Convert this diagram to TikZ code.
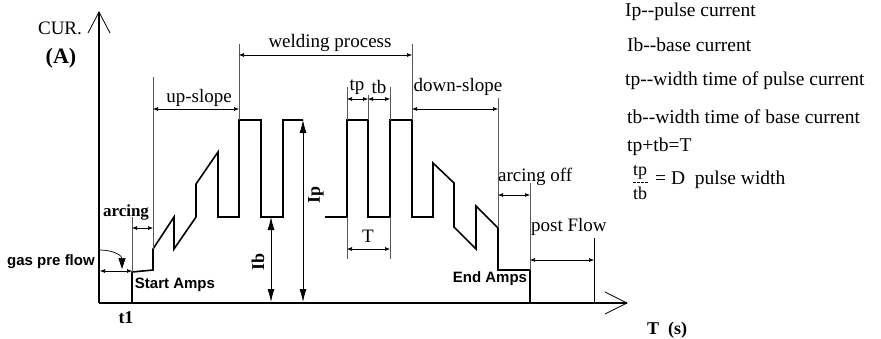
\documentclass[tikz,border=0pt]{standalone}
\usepackage{fontspec}
\setmainfont{Liberation Serif}
\setsansfont{Liberation Sans}
\usetikzlibrary{arrows.meta}
\tikzset{
  wave/.style={line width=1.6pt,line join=miter},
  axisline/.style={line width=2pt},
  extline/.style={line width=0.6pt,black!65},
  dimline/.style={line width=0.6pt,{Latex[length=5pt,width=4pt]}-{Latex[length=5pt,width=4pt]}},
  bigdim/.style={line width=0.8pt,{Latex[length=13pt,width=7pt]}-{Latex[length=13pt,width=7pt]}},
  lbl/.style={font=\fontsize{19}{21}\selectfont,inner sep=0pt},
  blbl/.style={font=\fontsize{18}{20}\selectfont\bfseries,inner sep=0pt},
  slbl/.style={font=\fontsize{15}{17}\selectfont\sffamily\bfseries,inner sep=0pt},
  leg/.style={font=\fontsize{19.5}{22}\selectfont,inner sep=0pt,anchor=west}
}
\begin{document}
\begin{tikzpicture}[x=1pt,y=-1pt]
  \useasboundingbox (0,0) rectangle (881,338);
  % axes
  \coordinate (o) at (99,303);
  \coordinate (ytip) at (99,12);
  \coordinate (xtip) at (627,303);
  \draw[axisline] (o) -- (ytip);
  \draw[line width=0.8pt] (88,33) -- (ytip) -- (110,33);
  \draw[axisline] (o) -- (xtip);
  \draw[line width=0.8pt] (605,292) -- (xtip) -- (605,314);
  % waveform
  \draw[wave] (132,303) -- (132,272) -- (153,270) -- (153,249) -- (174,217) -- (174,249)
    -- (196,217) -- (196,184) -- (218,152) -- (218,217) -- (239,217) -- (239,120)
    -- (261,120) -- (261,217) -- (283,217) -- (283,120) -- (303,120);
  \draw[wave] (325,217) -- (347,217) -- (347,120) -- (368,120) -- (368,217) -- (390,217)
    -- (390,120) -- (412,120) -- (412,217) -- (433,217) -- (433,163) -- (454,183)
    -- (454,227) -- (476,249) -- (476,206) -- (498,228) -- (498,270) -- (530,270) -- (530,303);
  % extension lines
  \draw[extline] (132,217) -- (132,272);
  \draw[extline] (153,77) -- (153,249);
  \foreach \x in {239,412} \draw[extline] (\x,44) -- (\x,120);
  \foreach \x in {347,390} {
    \draw[extline] (\x,87) -- (\x,120);
    \draw[extline] (\x,217) -- (\x,259);
  }
  \draw[extline] (368,95) -- (368,120);
  \draw[extline] (498,98) -- (498,228);
  \draw[extline] (530,183) -- (530,270);
  \draw[extline,black] (594,238) -- (594,303);
  % gas pre flow mark
  \draw[line width=0.7pt,-{Triangle[length=11pt,width=7pt]}] (100,250) .. controls (114,250) and (122,256) .. (122,269);
  % dimensions
  \draw[dimline] (100,271) -- (132,271);
  \draw[dimline] (132,228) -- (153,228);
  \draw[dimline] (153,109) -- (239,109);
  \draw[dimline] (239,55) -- (412,55);
  \draw[dimline] (347,99) -- (368,99);
  \draw[dimline] (368,99) -- (390,99);
  \draw[dimline] (412,109) -- (498,109);
  \draw[dimline] (347,249) -- (390,249);
  \draw[dimline] (498,195) -- (530,195);
  \draw[dimline] (530,260) -- (594,260);
  \draw[bigdim] (271,217) -- (271,302);
  \draw[bigdim] (303,120) -- (303,302);
  % labels
  \node[lbl] (cur) at (60,28) {CUR.};
  \node[blbl,font=\fontsize{22}{24}\selectfont\bfseries] (amp) at (61,58) {(A)};
  \node[slbl] (gas) at (51,262) {gas pre flow};
  \node[blbl,font=\fontsize{17}{19}\selectfont\bfseries] (arc) at (126,212) {arcing};
  \node[slbl] (start) at (175,285) {Start Amps};
  \node[blbl] (t1) at (126,318) {t1};
  \node[lbl] (up) at (199,98) {up-slope};
  \node[lbl] (weld) at (330,43) {welding process};
  \node[lbl] (tp) at (357,87) {tp};
  \node[lbl] (tb) at (379,87) {tb};
  \node[lbl] (down) at (458,87) {down-slope};
  \node[lbl] (per) at (368,236) {T};
  \node[blbl,rotate=90] (ib) at (258,262) {Ib};
  \node[blbl,rotate=90] (ip) at (316,195) {Ip};
  \node[lbl,anchor=west] (off) at (498,177) {arcing off};
  \node[lbl,anchor=west] (post) at (531,227) {post Flow};
  \node[slbl] (end) at (490,279) {End Amps};
  \node[blbl] (ts) at (667,330) {T\ \ (s)};
  % legend
  \node[leg] (l1) at (625,12) {Ip-{}-pulse current};
  \node[leg] (l2) at (627,45) {Ib-{}-base current};
  \node[leg] (l3) at (625,81) {tp-{}-width time of pulse current};
  \node[leg] (l4) at (627,117) {tb-{}-width time of base current};
  \node[leg] (l5) at (627,147) {tp+tb=T};
  \node[lbl,font=\fontsize{18}{20}\selectfont] (fn) at (640,172) {tp};
  \node[lbl,font=\fontsize{18}{20}\selectfont] (fd) at (640,193) {tb};
  \draw[line width=0.6pt,dash pattern=on 2.5pt off 1.5pt] (633,182) -- (649,182);
  \node[leg] (l6) at (655,180) {= D\ \ pulse width};
\end{tikzpicture}
\end{document}
